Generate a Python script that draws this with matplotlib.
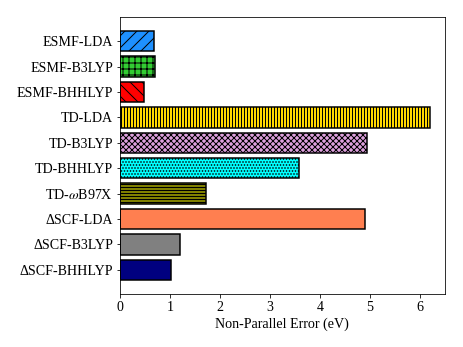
import matplotlib
matplotlib.use("Agg")
import matplotlib.pyplot as plt

plt.rcParams['font.family'] = ['Liberation Serif', 'DejaVu Serif']
plt.rcParams['mathtext.fontset'] = 'stix'
plt.rcParams['hatch.linewidth'] = 1.0

labels = ["ESMF-LDA", "ESMF-B3LYP", "ESMF-BHHLYP", "TD-LDA", "TD-B3LYP",
          "TD-BHHLYP", "TD-$\\omega$B97X", "ΔSCF-LDA", "ΔSCF-B3LYP", "ΔSCF-BHHLYP"]
values = [0.68, 0.71, 0.49, 6.21, 4.94, 3.59, 1.72, 4.90, 1.20, 1.03]
colors = ["dodgerblue", "limegreen", "red", "gold", "plum", "cyan", "olive",
          "coral", "gray", "navy"]
hatches = ["//", "++", "\\\\", "||||", "xxxx", "....", "----", None, None, None]

dpi = 72
fig = plt.figure(figsize=(463 / dpi, 347 / dpi), dpi=dpi)
ax = fig.add_axes([0.259, 0.153, 0.702, 0.798])

pos = list(range(len(labels)))
bars = ax.barh(pos, values, height=0.8, color=colors, edgecolor="black", linewidth=1.5)
for b, h in zip(bars, hatches):
    if h:
        b.set_hatch(h)

ax.set_yticks(pos)
ax.set_yticklabels(labels, fontsize=14)
ax.set_ylim(9.95, -0.95)
ax.set_xlim(0, 6.5)
ax.set_xticks([0, 1, 2, 3, 4, 5, 6])
ax.tick_params(axis='x', labelsize=14)
ax.set_xlabel("Non-Parallel Error (eV)", fontsize=14)

fig.savefig("out.png", dpi=dpi)
